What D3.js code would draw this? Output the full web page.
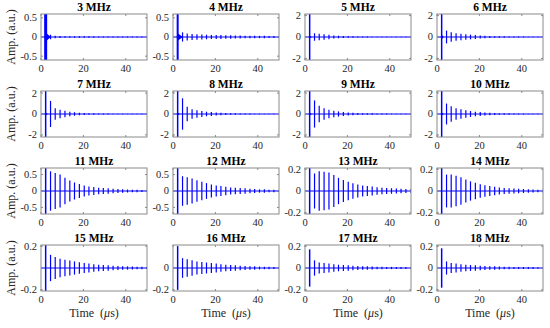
<!DOCTYPE html>
<html>
<head>
<meta charset="utf-8">
<script src="https://cdn.jsdelivr.net/npm/d3@7"></script>
<style>
  body { margin: 0; background: #fff; }
  svg { display: block; }
  text { font-family: "Liberation Serif", "DejaVu Serif", serif; }
</style>
</head>
<body>
<svg id="chart" width="550" height="328"></svg>
<script>
// transducer frequencies, one panel each
const freqs = [3, 4, 5, 6, 7, 8, 9, 10, 11, 12, 13, 14, 15, 16, 17, 18];

// echo arrival times (us), same plate for every frequency
const echoTimes = [2.2, 4.5, 6.7, 9.0, 11.3, 13.6, 15.8, 18.1, 20.4, 22.6, 24.9,
  27.2, 29.4, 31.7, 34.0, 36.3, 38.5, 40.8, 43.1, 45.3, 47.6, 49.9];

// echo peak amplitudes (a.u.)
const amp3 = [0.9, 0.06, 0.03, 0.025, 0.02, 0.02, 0.02, 0.02, 0.018, 0.018, 0.017, 0.016, 0.016, 0.015, 0.015, 0.014, 0.014, 0.013, 0.013, 0.012, 0.012, 0.012];
const amp4 = [0.9, 0.12, 0.09, 0.08, 0.07, 0.065, 0.06, 0.055, 0.05, 0.05, 0.045, 0.045, 0.04, 0.04, 0.035, 0.035, 0.03, 0.03, 0.03, 0.025, 0.025, 0.025];
const amp5 = [3, 0.35, 0.3, 0.25, 0.2, 0.15, 0.12, 0.1, 0.08, 0.06, 0.05, 0.04, 0.04, 0.03, 0.03, 0.03, 0.02, 0.02, 0.02, 0.02, 0.02, 0.02];
const amp6 = [3, 0.6, 0.45, 0.35, 0.3, 0.25, 0.22, 0.18, 0.15, 0.12, 0.1, 0.08, 0.07, 0.06, 0.05, 0.05, 0.04, 0.04, 0.03, 0.03, 0.03, 0.03];
const amp7 = [3, 1.25, 0.55, 0.4, 0.3, 0.22, 0.17, 0.13, 0.1, 0.08, 0.06, 0.05, 0.04, 0.04, 0.03, 0.03, 0.03, 0.02, 0.02, 0.02, 0.02, 0.02];
const amp8 = [3, 1.5, 0.7, 0.45, 0.35, 0.28, 0.22, 0.18, 0.14, 0.11, 0.09, 0.07, 0.06, 0.05, 0.04, 0.04, 0.03, 0.03, 0.03, 0.02, 0.02, 0.02];
const amp9 = [3, 1.3, 0.8, 0.55, 0.4, 0.3, 0.25, 0.2, 0.15, 0.12, 0.1, 0.08, 0.07, 0.06, 0.05, 0.04, 0.04, 0.03, 0.03, 0.03, 0.02, 0.02];
const amp10 = [3, 1.0, 0.75, 0.55, 0.45, 0.35, 0.28, 0.22, 0.18, 0.15, 0.12, 0.1, 0.08, 0.07, 0.06, 0.05, 0.04, 0.04, 0.03, 0.03, 0.03, 0.02];
const amp11 = [1.0, 0.6, 0.55, 0.5, 0.4, 0.32, 0.26, 0.21, 0.17, 0.14, 0.12, 0.1, 0.09, 0.08, 0.07, 0.06, 0.05, 0.045, 0.04, 0.035, 0.03, 0.03];
const amp12 = [1.0, 0.45, 0.42, 0.38, 0.33, 0.28, 0.24, 0.2, 0.17, 0.15, 0.13, 0.11, 0.1, 0.09, 0.08, 0.07, 0.06, 0.05, 0.05, 0.04, 0.04, 0.03];
const amp13 = [0.3, 0.16, 0.18, 0.175, 0.17, 0.145, 0.12, 0.1, 0.085, 0.07, 0.06, 0.05, 0.045, 0.04, 0.035, 0.03, 0.028, 0.025, 0.022, 0.02, 0.018, 0.016];
const amp14 = [0.3, 0.15, 0.15, 0.14, 0.125, 0.105, 0.088, 0.075, 0.062, 0.052, 0.045, 0.038, 0.032, 0.028, 0.025, 0.022, 0.02, 0.018, 0.016, 0.014, 0.012, 0.011];
const amp15 = [0.3, 0.12, 0.1, 0.085, 0.075, 0.068, 0.06, 0.052, 0.045, 0.04, 0.035, 0.03, 0.027, 0.024, 0.021, 0.019, 0.017, 0.015, 0.013, 0.012, 0.011, 0.01];
const amp16 = [0.2, 0.09, 0.08, 0.07, 0.06, 0.055, 0.05, 0.045, 0.04, 0.035, 0.03, 0.027, 0.024, 0.021, 0.019, 0.017, 0.015, 0.013, 0.012, 0.011, 0.01, 0.01];
const amp17 = [0.17, 0.07, 0.05, 0.045, 0.04, 0.035, 0.03, 0.027, 0.024, 0.021, 0.019, 0.017, 0.015, 0.013, 0.012, 0.011, 0.01, 0.01, 0.009, 0.009, 0.008, 0.008];
const amp18 = [0.18, 0.06, 0.045, 0.04, 0.035, 0.03, 0.027, 0.024, 0.021, 0.019, 0.017, 0.015, 0.013, 0.012, 0.011, 0.01, 0.009, 0.009, 0.008, 0.008, 0.007, 0.007];
const amps = [amp3, amp4, amp5, amp6, amp7, amp8, amp9, amp10, amp11, amp12, amp13, amp14, amp15, amp16, amp17, amp18];

// ring-down right after the first pulse
const ringAmp = [0.12, 0.1, 0.15, 0.2, 0.15, 0.15, 0.15, 0.15, 0, 0, 0, 0, 0, 0, 0, 0];

// y limits (symmetric) and tick labels per panel
const yLim = [0.6, 0.6, 2.15, 2.15, 2.2, 2.2, 2.2, 2.2, 0.7, 0.7, 0.21, 0.21, 0.21, 0.21, 0.21, 0.21];
const yTicks = [
  [-0.5, 0, 0.5], [-0.5, 0, 0.5], [-2, 0, 2], [-2, 0, 2],
  [-2, 0, 2], [-2, 0, 2], [-2, 0, 2], [-2, 0, 2],
  [-0.5, 0, 0.5], [-0.5, 0, 0.5], [-0.2, 0, 0.2], [-0.2, 0, 0.2],
  [-0.2, 0.2], [-0.2, 0], [-0.2, 0, 0.2], [-0.2, 0, 0.2]
];
const xDomain = [0, 50];
const xTicks = [0, 20, 40];

const colLeft = [41, 173, 305, 437];
const rowTop = [14, 91, 168, 245];
const pw = 106, ph = 46;
const blue = "#0000ff";
const frameColor = "#8a8a8a";
const serif = "'Liberation Serif', 'DejaVu Serif', serif";

const svg = d3.select("#chart");

freqs.forEach((f, k) => {
  const col = k % 4, row = Math.floor(k / 4);
  const x0 = colLeft[col], y0 = rowTop[row];

  const x = d3.scaleLinear().domain(xDomain).range([x0, x0 + pw]);
  const y = d3.scaleLinear().domain([-yLim[k], yLim[k]]).range([y0 + ph, y0]);

  const g = svg.append("g").attr("font-family", serif);

  svg.append("clipPath").attr("id", "clip" + k)
    .append("rect").attr("x", x0).attr("y", y0).attr("width", pw).attr("height", ph);

  const plot = g.append("g").attr("clip-path", `url(#clip${k})`);

  // baseline
  plot.append("line")
    .attr("x1", x(xDomain[0])).attr("x2", x(xDomain[1]))
    .attr("y1", y(0)).attr("y2", y(0))
    .attr("stroke", blue).attr("stroke-width", 1.2);

  if (ringAmp[k] > 0) {
    const x1 = k < 2 ? 4.6 : 3.2;
    plot.append("path")
      .attr("d", `M${x(1.7)},${y(0)} L${x(2.2)},${y(ringAmp[k])} L${x(x1)},${y(0)} L${x(2.2)},${y(-ringAmp[k])} Z`)
      .attr("fill", blue);
  }

  plot.selectAll(".echo")
    .data(amps[k])
    .enter()
    .append("line")
    .attr("class", "echo")
    .attr("x1", (d, i) => x(echoTimes[i]))
    .attr("x2", (d, i) => x(echoTimes[i]))
    .attr("y1", d => y(d))
    .attr("y2", d => y(-d))
    .attr("stroke", blue)
    .attr("stroke-width", (d, i) => i === 0 ? (k === 0 ? 3 : k === 1 ? 2 : 1.5) : 1.2);

  // frame
  g.append("rect")
    .attr("x", x0).attr("y", y0).attr("width", pw).attr("height", ph)
    .attr("fill", "none").attr("stroke", frameColor).attr("stroke-width", 1);

  // inward ticks
  xTicks.forEach(t => {
    g.append("line").attr("x1", x(t)).attr("x2", x(t)).attr("y1", y0 + ph).attr("y2", y0 + ph - 2)
      .attr("stroke", frameColor);
    g.append("line").attr("x1", x(t)).attr("x2", x(t)).attr("y1", y0).attr("y2", y0 + 2)
      .attr("stroke", frameColor);
  });
  yTicks[k].forEach(t => {
    g.append("line").attr("x1", x0).attr("x2", x0 + 2).attr("y1", y(t)).attr("y2", y(t))
      .attr("stroke", frameColor);
    g.append("line").attr("x1", x0 + pw).attr("x2", x0 + pw - 2).attr("y1", y(t)).attr("y2", y(t))
      .attr("stroke", frameColor);
  });

  // tick labels
  g.selectAll(".xt").data(xTicks).enter().append("text")
    .attr("x", d => x(d)).attr("y", y0 + ph + 12)
    .attr("text-anchor", "middle").attr("font-size", 10.5).attr("fill", "#262626")
    .text(d => d);
  g.selectAll(".yt").data(yTicks[k]).enter().append("text")
    .attr("x", x0 - 4).attr("y", d => y(d)).attr("dy", "0.33em")
    .attr("text-anchor", "end").attr("font-size", 10.5).attr("fill", "#262626")
    .text(d => String(d));

  // title
  g.append("text")
    .attr("x", x0 + pw / 2).attr("y", y0 - 3.5)
    .attr("text-anchor", "middle").attr("font-size", 11.5).attr("font-weight", "bold")
    .attr("fill", "#000")
    .text(f + " MHz");

  if (col === 0) {
    g.append("text")
      .attr("transform", `translate(15,${y0 + ph / 2}) rotate(-90)`)
      .attr("text-anchor", "middle").attr("font-size", 12).attr("fill", "#262626")
      .text("Amp. (a.u.)");
  }
  if (row === 3) {
    const t = g.append("text")
      .attr("x", x0 + pw / 2).attr("y", y0 + ph + 26)
      .attr("text-anchor", "middle").attr("font-size", 12).attr("fill", "#262626");
    t.append("tspan").text("Time\u00a0\u00a0(");
    t.append("tspan").attr("font-style", "italic").text("\u03bc");
    t.append("tspan").text("s)");
  }
});
</script>
</body>
</html>
